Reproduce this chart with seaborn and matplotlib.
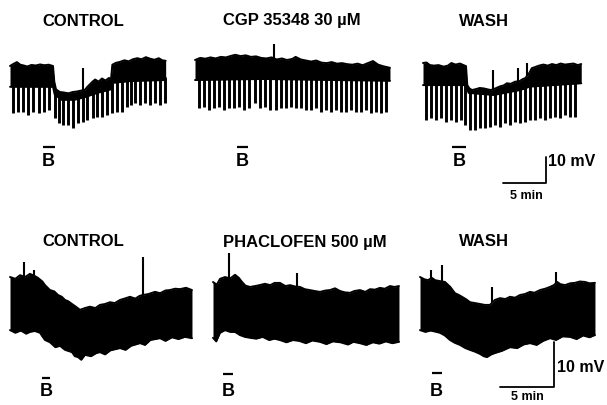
import numpy as np
import matplotlib
matplotlib.use("Agg")
import matplotlib.pyplot as plt
import matplotlib.transforms as mtransforms
import seaborn as sns

sns.set_theme(style="white")
plt.rcParams['font.family'] = ['Liberation Sans', 'DejaVu Sans']

# ---------------- DATA (time in min, membrane potential in mV, relative) -------------
# ---- Top row: CONTROL / CGP 35348 30 uM / WASH ----
t1_top_t = [0, 0.4, 0.8, 1.2, 1.6, 2.0, 2.5, 3.0, 3.5, 4.0, 4.5, 5.0, 5.15, 5.35, 5.8, 6.3, 6.8, 7.3,
            7.8, 8.2, 8.7, 9.0, 9.3, 9.6, 9.9, 10.3, 10.7, 11.1, 11.5, 11.75, 11.9, 12.3, 12.8, 13.3,
            13.8, 14.3, 14.8, 15.3, 15.8, 16.3, 16.8, 17.3, 17.7, 18.1]
t1_top_v = [0, 0.8, 1.5, 0.5, 0.2, -0.2, 0.4, 0.2, 0.6, 0.3, 0.5, 0.0, -6.0, -9.0, -10.0, -10.2, -10.5,
            -10.0, -9.8, -9.5, -9.2, -8.0, -7.0, -6.0, -5.2, -6.0, -4.8, -5.6, -4.6, -5.0, 0.5, 1.2, 1.6,
            2.2, 1.8, 2.6, 3.0, 2.6, 3.4, 2.8, 2.4, 3.0, 2.2, 2.0]
t1_bot_t = [0, 5.0, 5.2, 6.0, 7.5, 8.7, 10.0, 11.7, 11.9, 14.0, 18.1]
t1_bot_v = [-8.0, -8.0, -11.0, -13.0, -13.0, -12.0, -10.5, -9.0, -6.5, -5.8, -5.4]
t1_pulse_t = [0.31, 0.97, 1.55, 2.13, 2.71, 3.41, 3.99, 4.57, 5.23, 5.74, 6.20, 6.78, 7.36, 7.95,
              8.53, 9.00, 9.61, 10.16, 10.74, 11.24, 11.82, 12.40, 12.98, 13.57, 14.03, 14.53,
              15.12, 15.70, 16.28, 16.86, 17.44, 18.02]
t1_pulse_v = [-18.2, -17.6, -17.6, -18.8, -17.6, -18.2, -17.6, -16.9, -20.1, -22.1, -22.7, -22.7,
              -24.0, -22.1, -21.4, -20.8, -20.1, -19.5, -19.5, -18.8, -18.2, -17.6, -17.6, -15.6,
              -15.0, -14.4, -15.0, -14.4, -15.0, -14.4, -15.0, -14.4]
t1_spike_t = [8.5]
t1_spike_v = [-0.8]

t2_top_t = [0, 0.6, 1.2, 1.8, 2.4, 3.0, 3.6, 4.2, 4.7, 5.3, 5.9, 6.5, 7.1, 7.7, 8.3, 8.9, 9.5, 10.1,
            10.7, 11.3, 11.7, 12.3, 12.9, 13.5, 14.1, 14.7, 15.3, 15.9, 16.5, 17.1, 17.7, 18.3, 18.9,
            19.5, 20.1, 20.7, 21.3, 21.9, 22.67]
t2_top_v = [0, 0.8, 0.5, 1.0, 0.6, 1.2, 1.0, 1.6, 2.0, 1.5, 1.8, 1.2, 1.4, 0.8, 0.6, 1.0, 0.2, 0.6,
            0.0, 0.4, 1.2, 0.2, -0.2, -0.6, -0.2, -1.0, -1.2, -0.8, -1.4, -1.2, -1.6, -1.8, -1.4,
            -2.0, -1.2, -0.4, -1.8, -2.4, -3.0]
t2_bot_t = [0, 8.0, 16.0, 22.67]
t2_bot_v = [-7.7, -7.3, -7.7, -8.0]
t2_pulse_t = [0.47, 1.05, 1.63, 2.25, 2.83, 3.41, 3.99, 4.57, 5.16, 5.74, 6.32, 6.98, 7.56, 8.14,
              8.76, 9.38, 10.00, 10.58, 11.16, 11.74, 12.33, 12.91, 13.49, 14.07, 14.65, 15.23,
              15.81, 16.40, 16.98, 17.56, 18.14, 18.72, 19.30, 19.88, 20.47, 21.05, 21.63, 22.21]
t2_pulse_v = [-18.6, -18.0, -19.2, -18.6, -18.0, -19.2, -18.6, -18.6, -18.0, -19.2, -18.6, -16.7,
              -18.6, -18.0, -19.2, -19.2, -18.6, -18.6, -18.0, -18.6, -18.6, -19.2, -19.2, -18.6,
              -19.9, -19.2, -19.9, -19.2, -19.9, -19.9, -19.2, -19.9, -19.9, -19.2, -20.5, -19.9,
              -20.5, -19.9]
t2_spike_t = [9.22]
t2_spike_v = [6.2]

t3_top_t = [0, 0.4, 0.8, 1.3, 1.8, 2.4, 2.9, 3.3, 3.8, 4.3, 4.7, 5.0, 5.15, 5.4, 5.7, 6.2, 6.6, 7.1,
            7.6, 7.9, 8.4, 8.95, 9.4, 9.75, 10.2, 10.7, 11.2, 11.6, 11.9, 12.2, 12.4, 12.65, 13.0,
            13.5, 14.0, 14.5, 15.0, 15.5, 16.0, 16.5, 17.0, 17.5, 18.0, 18.4]
t3_top_v = [0, 0.2, -0.8, -1.0, -0.8, -1.4, -1.0, 0.0, -0.6, -0.2, -0.8, -1.2, -8.5, -9.8, -10.4,
            -10.0, -9.6, -9.8, -10.2, -10.4, -9.8, -9.0, -8.6, -7.8, -8.0, -7.2, -7.0, -6.2, -5.8,
            -4.5, -3.6, -2.0, -1.6, -1.0, -0.6, -1.0, -0.4, -0.8, -0.2, -0.6, -0.4, -0.2, -0.8, -0.4]
t3_bot_t = [0, 5.0, 5.3, 8.2, 11.3, 12.4, 18.4]
t3_bot_v = [-8.5, -8.5, -11.5, -12.3, -10.4, -9.1, -7.8]
t3_pulse_t = [0.35, 0.89, 1.47, 2.05, 2.64, 3.22, 3.80, 4.38, 4.88, 5.47, 6.05, 6.63, 7.21, 7.79,
              8.37, 8.95, 9.53, 10.12, 10.70, 11.28, 11.86, 12.44, 13.02, 13.60, 14.19, 14.77,
              15.35, 15.93, 16.51, 17.09, 17.67]
t3_pulse_v = [-21.9, -21.3, -21.9, -21.3, -22.6, -21.9, -22.6, -21.9, -23.8, -25.8, -25.8, -25.1,
              -25.1, -24.5, -23.8, -24.5, -23.2, -23.8, -22.6, -23.2, -22.6, -21.9, -21.9, -21.3,
              -21.9, -21.3, -20.6, -21.3, -20.0, -20.6, -20.6]
t3_spike_t = [8.1, 11.1, 12.1]
t3_spike_v = [-2.7, -2.0, 0.0]

# ---- Bottom row: CONTROL / PHACLOFEN 500 uM / WASH ----
b1_top_t = [0, 0.5, 0.93, 1.4, 1.85, 2.3, 2.59, 3.0, 3.24, 3.7, 4.1, 4.44, 4.8, 5.09, 5.4, 5.74, 6.1,
            6.48, 6.94, 7.4, 7.9, 8.33, 8.8, 9.26, 9.7, 10.19, 10.6, 11.11, 11.6, 12.0, 12.31, 12.8,
            13.43, 13.9, 14.4, 14.81, 15.3, 15.74, 16.3, 16.85]
b1_top_v = [0, -0.4, 0.4, 0.0, 0.7, 0.2, -0.2, -1.0, -1.8, -2.9, -3.2, -4.0, -4.4, -5.1, -5.4, -6.0,
            -6.6, -7.3, -6.9, -6.6, -6.9, -6.2, -6.0, -5.6, -5.8, -5.1, -4.8, -4.4, -4.8, -4.2, -4.0,
            -3.8, -3.3, -3.6, -3.0, -2.9, -2.6, -2.7, -2.4, -2.9]
b1_bot_t = [0, 0.5, 1.0, 1.5, 1.85, 2.3, 2.78, 3.0, 3.24, 3.7, 4.2, 4.63, 5.1, 5.74, 6.0, 6.30, 6.6,
            6.94, 7.5, 8.0, 8.33, 8.8, 9.3, 10.19, 10.7, 11.2, 12.04, 12.5, 13.0, 13.89, 14.4, 15.0,
            15.6, 16.2, 16.85]
b1_bot_v = [-11.8, -12.4, -11.9, -12.6, -12.2, -12.0, -12.4, -13.2, -14.0, -14.5, -15.6, -15.3,
            -16.2, -16.7, -17.6, -17.8, -18.4, -17.3, -17.6, -16.9, -16.7, -17.2, -16.3, -15.8,
            -16.2, -15.3, -14.7, -15.1, -14.0, -13.6, -14.2, -13.4, -13.8, -13.3, -13.6]
b1_spike_t = [1.30, 2.22, 12.31]
b1_spike_v = [3.3, 1.6, 4.4]

b2_top_t = [0, 0.35, 0.65, 1.11, 1.6, 2.04, 2.4, 2.69, 3.0, 3.43, 3.9, 4.3, 4.81, 5.3, 5.7, 6.20,
            6.7, 7.13, 7.6, 8.06, 8.5, 8.98, 9.4, 9.91, 10.4, 10.83, 11.3, 11.76, 12.2, 12.69, 13.1,
            13.61, 14.1, 14.54, 15.0, 15.46, 15.9, 16.39, 16.8, 17.22]
b2_top_v = [0, -0.6, 0.7, 1.1, 0.8, 1.6, 0.9, 0.0, -0.8, -1.1, -0.9, -0.7, -0.4, -0.7, -0.2, -0.2,
            -0.9, -0.7, -1.0, -1.1, -1.6, -1.8, -2.0, -2.2, -1.9, -1.8, -1.4, -2.0, -2.3, -2.4,
            -2.0, -1.8, -2.2, -1.6, -1.7, -1.3, -1.5, -0.9, -1.1, -0.9]
b2_bot_t = [0, 0.3, 0.65, 1.11, 1.6, 2.04, 2.5, 2.96, 3.43, 4.0, 4.6, 5.2, 5.7, 6.20, 6.8, 7.4, 8.0,
            8.6, 9.2, 9.91, 10.5, 11.1, 11.8, 12.5, 13.0, 13.61, 14.2, 14.8, 15.4, 16.0, 16.6, 17.22]
b2_bot_v = [-12.4, -13.2, -11.3, -10.7, -11.1, -11.1, -11.8, -12.2, -12.4, -12.6, -12.2, -12.9,
            -12.6, -12.9, -13.4, -12.9, -13.1, -13.6, -13.0, -13.3, -13.8, -13.2, -13.4, -13.9,
            -13.3, -13.6, -14.0, -13.4, -13.7, -13.2, -13.6, -13.3]
b2_spike_t = [1.48, 7.78]
b2_spike_v = [6.4, 2.0]

b3_top_t = [0, 0.4, 0.74, 1.1, 1.39, 1.8, 2.31, 2.8, 3.24, 3.6, 3.89, 4.3, 4.63, 5.1, 5.56, 6.0,
            6.48, 6.94, 7.41, 7.9, 8.33, 8.8, 9.26, 9.7, 10.19, 10.6, 11.11, 11.6, 12.04, 12.4,
            12.7, 13.0, 13.43, 13.9, 14.35, 14.8, 15.28, 15.7, 16.20]
b3_top_v = [0, -0.5, -0.7, -0.2, -0.7, -0.9, -1.1, -2.2, -3.6, -4.0, -4.4, -5.0, -5.6, -5.8, -6.0,
            -6.2, -6.2, -5.1, -4.7, -4.9, -4.4, -4.6, -4.0, -3.8, -3.3, -3.5, -2.9, -2.6, -2.2,
            -1.8, -1.1, -1.6, -1.8, -1.4, -1.3, -1.0, -1.1, -1.4, -1.3]
b3_bot_t = [0, 0.5, 1.0, 1.85, 2.3, 2.78, 3.2, 3.70, 4.2, 4.63, 5.1, 5.56, 5.9, 6.20, 6.6, 6.94,
            7.6, 8.33, 9.0, 9.6, 10.19, 10.8, 11.4, 12.04, 12.6, 13.2, 13.89, 14.5, 15.1, 15.7, 16.20]
b3_bot_v = [-11.8, -12.2, -11.9, -12.4, -13.0, -14.0, -14.6, -15.1, -15.8, -16.2, -16.6, -17.1,
            -17.6, -17.8, -17.2, -16.9, -16.4, -15.6, -15.8, -15.0, -14.7, -15.1, -14.2, -13.6,
            -14.0, -13.2, -13.3, -13.8, -13.0, -13.4, -12.9]
b3_spike_t = [1.02, 2.04, 6.67, 12.59]
b3_spike_v = [1.6, 2.7, -2.2, 1.1]

# Baclofen application bars (min)
bac_top = [(3.8, 5.2), (4.9, 6.2), (3.4, 5.0)]
bac_bot = [(2.96, 3.70), (0.93, 1.85), (1.1, 2.0)]

titles_top = ["CONTROL", "CGP 35348 30 \u00b5M", "WASH"]
titles_bot = ["CONTROL", "PHACLOFEN 500 \u00b5M", "WASH"]
scale_mv = 10
scale_min = 5

# ---------------- LAYOUT ----------------
W, H = 607, 405
fig = plt.figure(figsize=(W / 100, H / 100), dpi=100)


def make_ax(x0_px, yref_px, dur, ppm, ppmv, vmin=-50, vmax=12, pad=0.4):
    left = x0_px - pad * ppm
    width = (dur + 2 * pad) * ppm
    bottom_px = yref_px - vmin * ppmv
    top_px = yref_px - vmax * ppmv
    ax = fig.add_axes([left / W, 1 - bottom_px / H, width / W, (bottom_px - top_px) / H])
    ax.set_xlim(-pad, dur + pad)
    ax.set_ylim(vmin, vmax)
    ax.axis('off')
    return ax


def draw_trace(ax, top_t, top_v, bot_t, bot_v, sp_t, sp_v, pulse_t=None, pulse_v=None):
    tt = np.union1d(top_t, bot_t)
    upper = np.interp(tt, top_t, top_v)
    lower = np.interp(tt, bot_t, bot_v)
    ax.fill_between(tt, lower, upper, color='black', lw=0)
    sns.lineplot(x=top_t, y=top_v, ax=ax, color='black', lw=1.4, sort=False, estimator=None)
    sns.lineplot(x=bot_t, y=bot_v, ax=ax, color='black', lw=1.4, sort=False, estimator=None)
    if pulse_t is not None:
        ax.vlines(pulse_t, pulse_v, np.interp(pulse_t, bot_t, bot_v) + 1.0,
                  color='black', lw=2.1)
    ax.vlines(sp_t, np.interp(sp_t, top_t, top_v), sp_v, color='black', lw=1.5)


def fig_text(x, y, s, size, ha='center'):
    fig.text(x / W, 1 - y / H, s, ha=ha, va='center', fontsize=size, fontweight='bold',
             color='black')


def bac_bar(ax, on, off, y_bar, y_b):
    tr = mtransforms.blended_transform_factory(ax.transData, fig.transFigure)
    ax.plot([on, off], [1 - y_bar / H] * 2, color='black', lw=1.6, transform=tr,
            clip_on=False, solid_capstyle='butt')
    ax.text((on + off) / 2, 1 - y_b / H, "B", transform=tr, ha='center', va='center',
            fontsize=13, fontweight='bold', color='black')


TOP_PPM, TOP_PPMV = 8.6, 2.6
BOT_PPM, BOT_PPMV = 10.8, 4.5

top_specs = [
    (10, 66, 18.1, t1_top_t, t1_top_v, t1_bot_t, t1_bot_v, t1_spike_t, t1_spike_v, t1_pulse_t, t1_pulse_v),
    (195, 60, 22.67, t2_top_t, t2_top_v, t2_bot_t, t2_bot_v, t2_spike_t, t2_spike_v, t2_pulse_t, t2_pulse_v),
    (423, 63, 18.4, t3_top_t, t3_top_v, t3_bot_t, t3_bot_v, t3_spike_t, t3_spike_v, t3_pulse_t, t3_pulse_v),
]
bot_specs = [
    (10, 277, 16.85, b1_top_t, b1_top_v, b1_bot_t, b1_bot_v, b1_spike_t, b1_spike_v),
    (213, 282, 17.22, b2_top_t, b2_top_v, b2_bot_t, b2_bot_v, b2_spike_t, b2_spike_v),
    (420, 277, 16.2, b3_top_t, b3_top_v, b3_bot_t, b3_bot_v, b3_spike_t, b3_spike_v),
]

top_axes = []
for spec in top_specs:
    x0, yref, dur = spec[:3]
    ax = make_ax(x0, yref, dur, TOP_PPM, TOP_PPMV)
    draw_trace(ax, *spec[3:])
    top_axes.append(ax)

bot_axes = []
for spec in bot_specs:
    x0, yref, dur = spec[:3]
    ax = make_ax(x0, yref, dur, BOT_PPM, BOT_PPMV, vmin=-35, vmax=12)
    draw_trace(ax, *spec[3:])
    bot_axes.append(ax)

# titles
for (xc, s) in zip([83, 292, 484], titles_top):
    fig_text(xc, 21, s, 12)
for (xc, s) in zip([83, 305, 484], titles_bot):
    fig_text(xc, 242, s, 12)

# baclofen bars + B labels
for ax, (on, off) in zip(top_axes, bac_top):
    bac_bar(ax, on, off, 147, 162)
for ax, (on, off), yb in zip(bot_axes, bac_bot, [378, 374, 373]):
    bac_bar(ax, on, off, yb, 392)

# scale bars (in data units of the WASH panels)
ax = top_axes[2]
cx, cy = 14.3, -46.2
ax.plot([cx - scale_min, cx, cx], [cy, cy, cy + scale_mv], color='black', lw=1.3, clip_on=False)
fig_text(548, 162, "10 mV", 11.5, ha='left')
fig_text(526, 196, "5 min", 9)

ax = bot_axes[2]
cx, cy = 12.4, -24.4
ax.plot([cx - scale_min, cx, cx], [cy, cy, cy + scale_mv], color='black', lw=1.3, clip_on=False)
fig_text(557, 367, "10 mV", 11.5, ha='left')
fig_text(527, 397, "5 min", 9)

fig.savefig("out.png", dpi=100, facecolor='white')
